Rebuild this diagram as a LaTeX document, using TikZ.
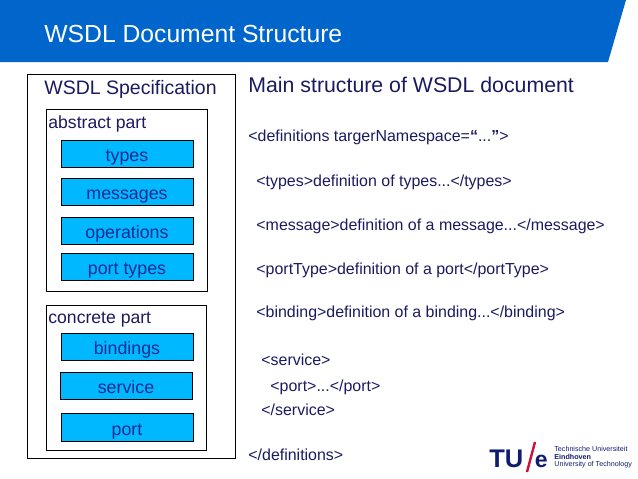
\documentclass[tikz,border=0pt]{standalone}
\usepackage{fontspec}
\setmainfont{Liberation Sans}
\usetikzlibrary{positioning}
\definecolor{banner}{HTML}{0066CC}
\definecolor{navy}{HTML}{1A1A60}
\definecolor{boxtext}{HTML}{1A2A90}
\definecolor{boxfill}{HTML}{00B8FF}
\definecolor{logoblue}{HTML}{101C70}
\definecolor{logored}{HTML}{D0103A}
\tikzstyle{part} = [rectangle, draw=black, anchor=north west, inner sep=0pt]
\tikzstyle{item} = [rectangle, draw=black, fill=boxfill, minimum width=132pt, minimum height=27pt, inner sep=0pt, text height=15.5pt, text depth=0pt, text=boxtext, font=\fontsize{17.8}{20}\selectfont]
\tikzstyle{caption} = [anchor=base west, inner sep=0pt, text=navy, font=\fontsize{17.6}{20}\selectfont]
\tikzstyle{heading} = [anchor=base west, inner sep=0pt, text=navy, font=\fontsize{21.3}{24}\selectfont]
\tikzstyle{code} = [anchor=base west, inner sep=0pt, text=navy, font=\fontsize{15.95}{18}\selectfont]
\tikzstyle{logotext} = [anchor=west, inner sep=0pt, text=logoblue, font=\fontsize{7.15}{9}\selectfont]

\begin{document}
\begin{tikzpicture}[x=1pt, y=-1pt, node distance=38pt, line width=0.8pt]
        \useasboundingbox (0,0) rectangle (638,479);
        \fill[banner] (0,0) -- (626,0) -- (608,62) -- (0,62) -- cycle;
        \node (title) [anchor=base west, inner sep=0pt, text=white, font=\fontsize{24.7}{28}\selectfont] at (44,42) {WSDL Document Structure};

        % Left side
        \node (spec) [part, minimum width=208pt, minimum height=384pt] at (27,74) {};
        \node (abstract) [part, minimum width=161pt, minimum height=182pt] at (46,109) {};
        \node (concrete) [part, minimum width=160pt, minimum height=145pt] at (46,305) {};
        \node (speclabel) [caption, font=\fontsize{19.5}{24}\selectfont] at (44,94) {WSDL Specification};
        \node (abstractlabel) [caption] at (48,128.3) {abstract part};
        \node (concretelabel) [caption] at (48,323.5) {concrete part};
        \node (types) [item] at (127,153.5) {types};
        \node (messages) [item, below of=types] {messages};
        \node (operations) [item, below of=messages, yshift=-1pt] {operations};
        \node (porttypes) [item, below of=operations, yshift=2pt] {port types};
        \node (bindings) [item] at (127,346.5) {bindings};
        \node (service) [item, below of=bindings, xshift=-1pt, yshift=-1pt] {service};
        \node (port) [item, below of=service, xshift=1pt, yshift=-4pt, minimum height=28pt] {port};

        % Right side
        \node (main) [heading] at (248,92.7) {Main structure of WSDL document};
        \node (defopen) [code] at (248,141.7) {<definitions targerNamespace=\textbf{“}...\textbf{”}>};
        \node (typesline) [code] at (256,186.4) {<types>definition of types...</types>};
        \node (messageline) [code] at (256,230.4) {<message>definition of a message...</message>};
        \node (porttypeline) [code] at (256,274.2) {<portType>definition of a port</portType>};
        \node (bindingline) [code] at (256,317.4) {<binding>definition of a binding...</binding>};
        \node (serviceopen) [code] at (261,365.7) {<service>};
        \node (portline) [code] at (270,391.4) {<port>...</port>};
        \node (serviceclose) [code] at (261,415) {</service>};
        \node (defclose) [code] at (248,460.7) {</definitions>};

        % Logo
        \node (tu) [anchor=base west, inner sep=0pt, text=logoblue, font=\bfseries\fontsize{25.5}{30}\selectfont] at (489,467) {TU};
        \node (e) [anchor=base west, inner sep=0pt, text=logoblue, font=\bfseries\fontsize{23}{28}\selectfont] at (534.5,467) {e};
        \draw[logored, line width=2.4pt] (535,442) -- (527,472);
        \node (tue1) [logotext] at (554,449) {Technische Universiteit};
        \node (tue2) [logotext, font=\bfseries\fontsize{7.15}{9}\selectfont] at (554,457) {Eindhoven};
        \node (tue3) [logotext] at (554,465) {University of Technology};
\end{tikzpicture}
\end{document}
